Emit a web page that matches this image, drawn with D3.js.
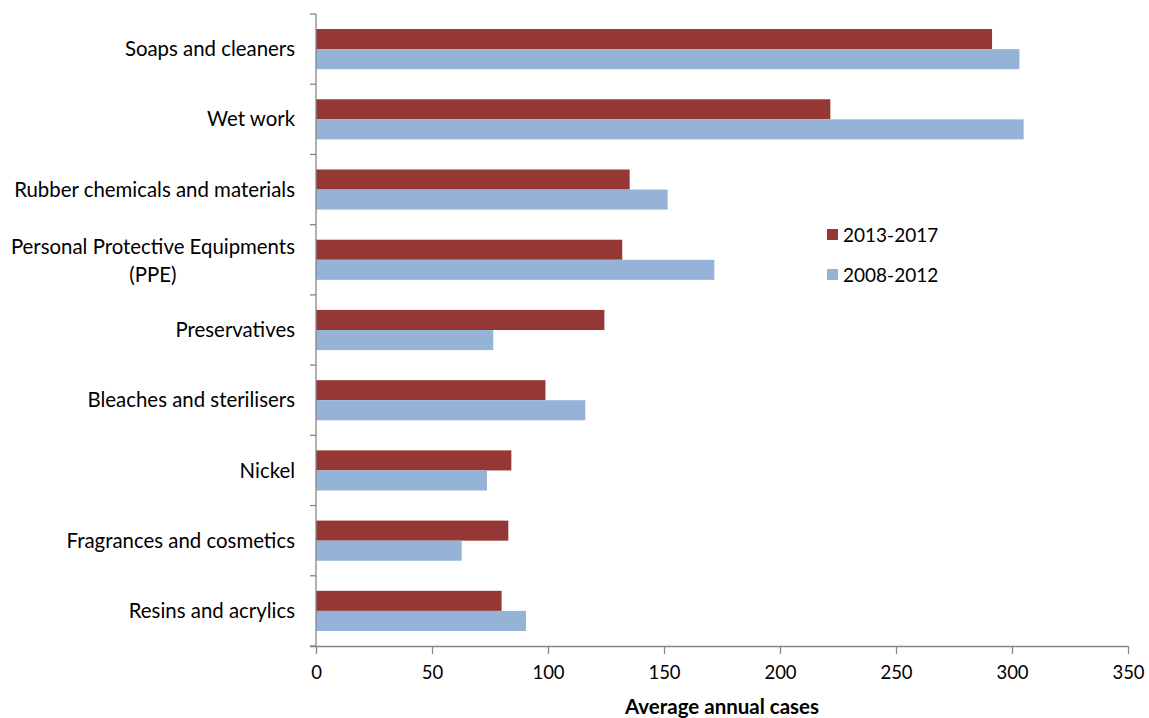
<!DOCTYPE html>
<html>
<head>
<meta charset="utf-8">
<script src="https://cdn.jsdelivr.net/npm/d3@7"></script>
<style>
  body { margin: 0; background: #fff; }
  svg text { font-family: Lato, "Open Sans", sans-serif; fill: #000; }
</style>
</head>
<body>
<div id="chart"></div>
<script>
const categories = [
  "Soaps and cleaners",
  "Wet work",
  "Rubber chemicals and materials",
  "Personal Protective Equipments (PPE)",
  "Preservatives",
  "Bleaches and sterilisers",
  "Nickel",
  "Fragrances and cosmetics",
  "Resins and acrylics"
];
const seriesNames = ["2013-2017", "2008-2012"];
const recent = [291.4, 221.7, 135.2, 132.0, 124.3, 98.9, 84.2, 82.9, 80.0];
const earlier = [303.2, 305.0, 151.6, 171.7, 76.4, 116.1, 73.7, 62.8, 90.5];
const xTicks = [0, 50, 100, 150, 200, 250, 300, 350];
const colors = ["#953735", "#95b3d7"];

const width = 1149, height = 718;
const margin = {top: 14, right: 21, bottom: 72, left: 316};

const svg = d3.select("#chart").append("svg")
  .attr("width", width)
  .attr("height", height);

const x = d3.scaleLinear().domain([0, 350]).range([margin.left, width - margin.right]);
const y = d3.scaleBand().domain(categories).range([margin.top, height - margin.bottom]).paddingInner(0).paddingOuter(0);
const inner = d3.scaleBand().domain(seriesNames).range([0, y.bandwidth()]).paddingOuter(0.75).paddingInner(0);

const rows = categories.map((c, i) => ({cat: c, vals: [recent[i], earlier[i]]}));

const g = svg.append("g");
g.selectAll(".row").data(rows).join("g")
  .attr("class", "row")
  .attr("transform", d => `translate(0,${y(d.cat)})`)
  .selectAll("rect").data(d => d.vals.map((v, j) => ({v, s: seriesNames[j], j})))
  .join("rect")
  .attr("x", x(0))
  .attr("y", d => inner(d.s))
  .attr("width", d => x(d.v) - x(0))
  .attr("height", inner.bandwidth())
  .attr("fill", d => colors[d.j]);

// y axis
const axisColor = "#868686";
const yAxis = svg.append("g")
  .attr("transform", `translate(${x(0)},0)`);
yAxis.append("line")
  .attr("x1", 0).attr("x2", 0)
  .attr("y1", margin.top).attr("y2", height - margin.bottom)
  .attr("stroke", axisColor).attr("stroke-width", 1.3);
const yTickPos = categories.map(c => y(c)).concat([y.range()[1]]);
yAxis.selectAll(".ytick").data(yTickPos).join("line")
  .attr("x1", -6).attr("x2", 0)
  .attr("y1", d => d).attr("y2", d => d)
  .attr("stroke", axisColor).attr("stroke-width", 1.3);

const labels = yAxis.selectAll(".ylab").data(categories).join("text")
  .attr("class", "ylab")
  .attr("text-anchor", "end")
  .style("font-size", "20.4px");
labels.each(function(d) {
  const t = d3.select(this);
  const cy = y(d) + y.bandwidth() / 2;
  if (d.startsWith("Personal")) {
    const l1 = t.append("tspan").attr("x", -21).attr("y", cy - 13).attr("dy", "0.35em")
      .text("Personal Protective Equipments");
    const w = l1.node().getComputedTextLength();
    t.append("tspan").attr("x", -21 - w / 2).attr("y", cy + 15).attr("dy", "0.35em")
      .attr("text-anchor", "middle").text("(PPE)");
  } else {
    t.attr("x", -21).attr("y", cy).attr("dy", "0.35em").text(d);
  }
});

// x axis
const xAxis = svg.append("g")
  .attr("transform", `translate(0,${y.range()[1]})`)
  .call(d3.axisBottom(x).tickValues(xTicks).tickSize(8).tickPadding(12).tickSizeOuter(0));
xAxis.select(".domain").attr("stroke", axisColor).attr("stroke-width", 1.3)
  .attr("d", `M${x(0) - 6},0.5H${x(350)}`);
xAxis.selectAll(".tick line").attr("stroke", axisColor).attr("stroke-width", 1.3);
xAxis.selectAll(".tick text").style("font-size", "18.5px").attr("fill", "#000")
  .style("font-family", "Lato, 'Open Sans', sans-serif");

svg.append("text")
  .attr("x", (x(0) + x(350)) / 2)
  .attr("y", 714)
  .attr("text-anchor", "middle")
  .style("font-size", "20.5px")
  .style("font-weight", "bold")
  .text("Average annual cases");

// legend
const legend = svg.append("g").attr("transform", "translate(827,229)");
const li = legend.selectAll("g").data(seriesNames).join("g")
  .attr("transform", (d, i) => `translate(0,${i * 40})`);
li.append("rect").attr("width", 11).attr("height", 11).attr("fill", (d, i) => colors[i]);
li.append("text").attr("x", 16).attr("y", 6).attr("dy", "0.35em")
  .style("font-size", "19px").text(d => d);
</script>
</body>
</html>
